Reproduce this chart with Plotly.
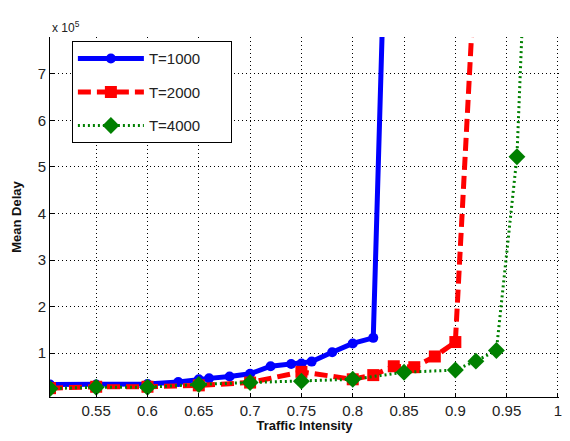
import plotly.graph_objects as go

# Data (mean delay in units of 1e5)
t1000_x = [0.505, 0.55, 0.60, 0.63, 0.65, 0.66, 0.68, 0.70, 0.72, 0.74, 0.75, 0.76, 0.78, 0.80, 0.82, 0.83]
t1000_y = [0.33, 0.33, 0.34, 0.38, 0.44, 0.46, 0.50, 0.56, 0.72, 0.77, 0.78, 0.82, 1.02, 1.21, 1.33, 8.9]

t2000_x = [0.505, 0.55, 0.60, 0.65, 0.70, 0.75, 0.80, 0.82, 0.84, 0.86, 0.88, 0.90, 0.92]
t2000_y = [0.25, 0.28, 0.28, 0.31, 0.37, 0.60, 0.44, 0.53, 0.72, 0.70, 0.93, 1.24, 9.6]

t4000_x = [0.505, 0.55, 0.60, 0.65, 0.70, 0.75, 0.80, 0.85, 0.90, 0.92, 0.94, 0.96, 0.97]
t4000_y = [0.24, 0.27, 0.27, 0.33, 0.37, 0.40, 0.44, 0.59, 0.64, 0.83, 1.06, 5.22, 10.7]

x_ticks = [0.55, 0.6, 0.65, 0.7, 0.75, 0.8, 0.85, 0.9, 0.95, 1]
x_tick_labels = ["0.55", "0.6", "0.65", "0.7", "0.75", "0.8", "0.85", "0.9", "0.95", "1"]
y_ticks = [1, 2, 3, 4, 5, 6, 7]
y_tick_labels = ["1", "2", "3", "4", "5", "6", "7"]

FONT = "Liberation Sans, Arial, sans-serif"
PAD = "\u00a0" * 6

fig = go.Figure()
fig.add_trace(go.Scatter(
    x=t1000_x, y=t1000_y, name="T=1000" + PAD, mode="lines+markers", legendgroup="a",
    line=dict(color="#0000FF", width=5),
    marker=dict(symbol="circle", size=10, color="#0000FF"),
))
fig.add_trace(go.Scatter(
    x=t2000_x, y=t2000_y, name="T=2000" + PAD, mode="lines+markers", legendgroup="b",
    line=dict(color="#FF0000", width=5, dash="13px,6px"),
    marker=dict(symbol="square", size=12, color="#FF0000"),
))
fig.add_trace(go.Scatter(
    x=t4000_x, y=t4000_y, name="T=4000" + PAD, mode="lines+markers", legendgroup="c",
    line=dict(color="#008000", width=3, dash="2px,3px"),
    marker=dict(symbol="diamond", size=13, color="#008000"),
))

# page body has an 8px margin, so the figure is sized to fit inside the 570x441 window
fig.update_layout(
    width=554, height=425,
    margin=dict(l=42, r=0, t=29, b=35),
    paper_bgcolor="white", plot_bgcolor="white",
    font=dict(family=FONT, size=13, color="#222"),
    showlegend=True,
    legend=dict(
        x=0.043, y=0.988, xanchor="left", yanchor="top",
        bordercolor="black", borderwidth=1, bgcolor="white",
        font=dict(family=FONT, size=15, color="#222"),
        itemwidth=66, tracegroupgap=11,
    ),
    annotations=[dict(
        text="x 10<sup>5</sup>", xref="paper", yref="paper", x=0, y=1,
        xanchor="left", yanchor="bottom", showarrow=False, yshift=0, xshift=0,
        font=dict(family=FONT, size=12, color="#222"),
    )],
)
fig.update_xaxes(
    range=[0.505, 1.001], tickvals=x_ticks, ticktext=x_tick_labels,
    showgrid=True, gridcolor="black", gridwidth=1, griddash="1px,3px",
    showline=True, linecolor="black", linewidth=1, mirror=False,
    ticks="inside", ticklen=4, tickcolor="black", zeroline=False,
    tickfont=dict(size=15), ticklabeloverflow="allow",
    title=dict(text="<b>Traffic Intensity</b>", font=dict(size=13, color="#111"), standoff=5),
)
fig.update_yaxes(
    range=[0.06, 7.79], tickvals=y_ticks, ticktext=y_tick_labels,
    showgrid=True, gridcolor="black", gridwidth=1, griddash="1px,3px",
    showline=True, linecolor="black", linewidth=1, mirror=False,
    ticks="inside", ticklen=4, tickcolor="black", zeroline=False,
    tickfont=dict(size=15),
    title=dict(text="<b>Mean Delay</b>", font=dict(size=13, color="#111"), standoff=13),
)

fig.write_html("out.html")
